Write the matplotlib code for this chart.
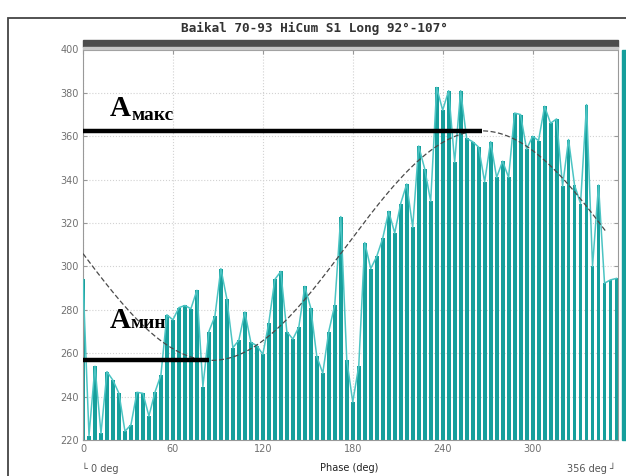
import numpy as np
import matplotlib
matplotlib.use("Agg")
from matplotlib import pyplot as plt
from matplotlib.patches import Rectangle

# phase bins (deg) and counts
phase = list(range(0, 360, 4))
counts = [294, 222, 254, 223, 251.5, 247.5, 241.5, 224, 227, 242,
          241.5, 231, 242, 250, 277.7, 275.4, 281, 282, 280.5, 289,
          244.6, 270, 277, 299, 285, 262.5, 266, 279, 265, 263.5,
          259.5, 274, 294, 297.7, 270, 266.5, 272, 290.8, 280.8, 258.5,
          250.8, 270, 282.3, 323, 257, 237.5, 254, 311, 299, 304.6,
          313, 325.4, 315.4, 329, 338, 318, 355.5, 345, 330, 382.5,
          372, 381, 348, 381, 359, 357.5, 355, 339, 357.5, 341,
          348.5, 341, 370.7, 370, 354, 360, 358, 373.8, 366, 368,
          337, 358.5, 337.5, 329, 374.6, 300, 337.5, 292.3, 293.8, 294.5]

# sine fit parameters
fit_mean = 309.6
fit_amp = 52.9
fit_peak = 266
fit_end = 349

a_max = 362.5
a_max_end = 266
a_min = 256.7
a_min_end = 84

xticks = [0, 60, 120, 180, 240, 300]
yticks = [220, 240, 260, 280, 300, 320, 340, 360, 380, 400]

W, H = 626, 476
fig = plt.figure(figsize=(W / 100, H / 100), dpi=100)

def fx(px):
    return px / W

def fy(py):
    return 1 - py / H

ax = fig.add_axes([fx(83), fy(440), fx(618) - fx(83), fy(49.5) - fy(440)])

bar_c = "#169f9c"
line_c = "#4cc4c3"
ax.bar(phase, [c - 220 for c in counts], bottom=220, width=2.6,
       color=bar_c, zorder=2)
ax.plot(phase, counts, color=line_c, lw=1.1, zorder=3)

xf = np.linspace(0, fit_end, 300)
yf = fit_mean + fit_amp * np.cos(np.radians(xf - fit_peak))
ax.plot(xf, yf, color="#4a4a4a", lw=0.9, ls=(0, (4, 2)), zorder=4)

ax.hlines(a_max, 0, a_max_end, color="black", lw=3.2, zorder=5)
ax.hlines(a_min, 0, a_min_end, color="black", lw=3.2, zorder=5)

ax.set_xlim(0, 357)
ax.set_ylim(220, 400)
ax.set_xticks(xticks)
ax.set_yticks(yticks)
ax.grid(True, color="#d2d2d2", ls=":", lw=0.8, zorder=0)
ax.set_axisbelow(True)
ax.tick_params(direction="in", length=3, color="#999999", labelcolor="#707070",
               labelsize=7, top=True, right=True, pad=3)
for s in ax.spines.values():
    s.set_color("#999999")
    s.set_linewidth(0.8)

# grey band above the plot and teal strip at the right
fig.patches.append(Rectangle((fx(83), fy(46.5)), fx(618) - fx(83), fy(40) - fy(46.5),
                             transform=fig.transFigure, color="#4d4d4d", zorder=1))
fig.patches.append(Rectangle((fx(83), fy(49)), fx(618) - fx(83), fy(46.5) - fy(49),
                             transform=fig.transFigure, color="#c8c8c8", zorder=1))
fig.patches.append(Rectangle((fx(621.5), fy(440)), fx(626) - fx(621.5), fy(50) - fy(440),
                             transform=fig.transFigure, color=bar_c, zorder=1))
# outer frame
fig.patches.append(Rectangle((fx(8), fy(480)), fx(640) - fx(8), fy(18) - fy(480),
                             transform=fig.transFigure, fill=False,
                             edgecolor="#444444", lw=1.3, zorder=1))

fig.text(0.502, fy(28), "Baikal 70-93 HiCum S1 Long 92°-107°",
         family="DejaVu Sans Mono", fontsize=9.2, weight="bold",
         ha="center", va="center", color="#333333")

serif = ["Liberation Serif", "DejaVu Serif"]
fig.text(fx(110), fy(116), "А", family=serif, weight="bold", fontsize=21,
         va="baseline", ha="left")
fig.text(fx(131.5), fy(119.5), "макс", family=serif, weight="bold", fontsize=14,
         va="baseline", ha="left")
fig.text(fx(110), fy(327.5), "А", family=serif, weight="bold", fontsize=21,
         va="baseline", ha="left")
fig.text(fx(130.5), fy(328.5), "мин", family=serif, weight="bold", fontsize=14,
         va="baseline", ha="left")

fig.text(fx(82), fy(468), "└ 0 deg", fontsize=7, color="#555555",
         ha="left", va="center")
fig.text(fx(349), fy(468), "Phase (deg)", fontsize=7, color="#222222",
         ha="center", va="center")
fig.text(fx(616), fy(468), "356 deg ┘", fontsize=7, color="#555555",
         ha="right", va="center")

fig.savefig("out.png", dpi=100)
